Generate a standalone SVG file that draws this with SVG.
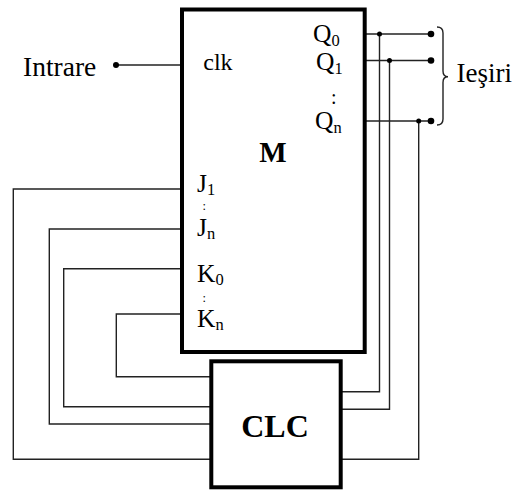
<svg xmlns="http://www.w3.org/2000/svg" width="517" height="492" viewBox="0 0 517 492">
<style>
.box{fill:#fff;stroke:#000;stroke-width:4}
.w{fill:none;stroke:#222;stroke-width:1.4}
.t{font-family:"Liberation Serif","Times New Roman",serif;fill:#000}
.dot{fill:#000}
</style>
<rect width="517" height="492" fill="#fff"/>
<g id="connectors">
<path class="w" d="M116,65 H182"/>
<path class="w" d="M182,189 H13.3 V459.3 H211"/>
<path class="w" d="M182,229 H49.3 V424 H211"/>
<path class="w" d="M182,268.7 H63.7 V406.7 H211"/>
<path class="w" d="M182,314 H116.3 V376.7 H211"/>
<path class="w" d="M364.7,34 H431"/>
<path class="w" d="M364.7,60.5 H431"/>
<path class="w" d="M364.7,121 H431"/>
<path class="w" d="M379.5,34 V391.7 H340.7"/>
<path class="w" d="M389.5,60.5 V409.3 H340.7"/>
<path class="w" d="M418.7,121 V459.3 H340.7"/>
<circle class="dot" cx="116" cy="65" r="3"/>
<circle class="dot" cx="431" cy="34" r="3.3"/>
<circle class="dot" cx="431" cy="60.5" r="3.3"/>
<circle class="dot" cx="431" cy="121" r="3.3"/>
<circle class="dot" cx="379.5" cy="34" r="2.5"/>
<circle class="dot" cx="389.5" cy="60.5" r="2.5"/>
<circle class="dot" cx="418.7" cy="121" r="2.5"/>
</g>
<g id="input">
<text class="t" x="23" y="75.7" font-size="27.5">Intrare</text>
</g>
<g id="M">
<rect class="box" x="182" y="9.5" width="182.7" height="342.5"/>
<text class="t" x="203.3" y="70" font-size="24">clk</text>
<text class="t" font-size="25.5"><tspan x="313" y="42">Q</tspan><tspan font-size="16.5" dy="4">0</tspan><tspan x="316" y="70">Q</tspan><tspan font-size="16.5" dy="4">1</tspan><tspan x="331" y="104" font-size="20">:</tspan><tspan x="315" y="129">Q</tspan><tspan font-size="16.5" dy="4">n</tspan></text>
<text class="t" x="273" y="162" font-size="29" font-weight="bold" text-anchor="middle">M</text>
<text class="t" font-size="25.5"><tspan x="197" y="192">J</tspan><tspan font-size="16.5" dy="3">1</tspan><tspan x="202.6" y="210" font-size="12.5">:</tspan><tspan x="197" y="236">J</tspan><tspan font-size="16.5" dy="3">n</tspan></text>
<text class="t" font-size="25.5"><tspan x="197" y="282">K</tspan><tspan font-size="16.5" dy="3">0</tspan><tspan x="202.6" y="301.5" font-size="12.5">:</tspan><tspan x="197" y="327">K</tspan><tspan font-size="16.5" dy="3">n</tspan></text>
</g>
<g id="CLC">
<rect class="box" x="211.3" y="361.3" width="129.4" height="126"/>
<text class="t" x="275" y="437.3" font-size="32" font-weight="bold" text-anchor="middle">CLC</text>
</g>
<g id="outputs">
<path class="w" d="M437,27 Q443,27 443,33 L443,71 Q443,76.7 448,76.7 Q443,76.7 443,82.4 L443,119 Q443,125 437,125"/>
<text class="t" x="456.5" y="81.7" font-size="27">Ieşiri</text>
</g>
</svg>
